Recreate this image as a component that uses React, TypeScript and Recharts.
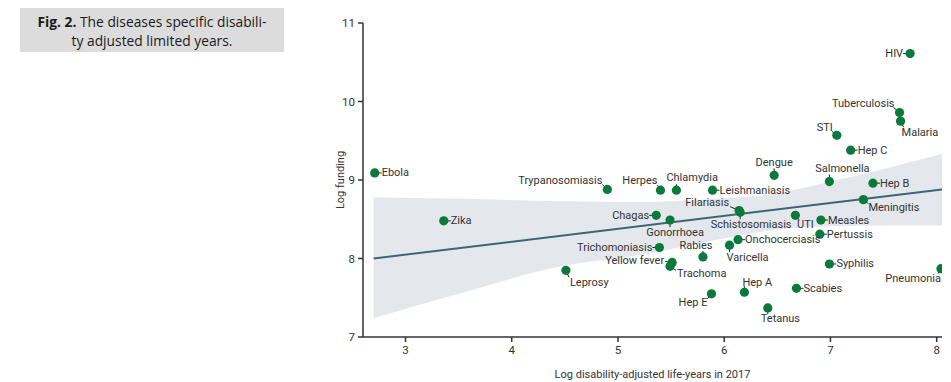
import React from 'react';
import { ComposedChart, Scatter, Line, Area, XAxis, YAxis, Label } from 'recharts';

// diseases, log DALYs (x) and log funding (y)
const diseases = [
  'HIV', 'Tuberculosis', 'Malaria', 'STI', 'Hep C', 'Dengue', 'Salmonella', 'Hep B', 'Meningitis',
  'Ebola', 'Trypanosomiasis', 'Herpes', 'Chlamydia', 'Leishmaniasis', 'Filariasis', 'Schistosomiasis',
  'UTI', 'Chagas', 'Gonorrhoea', 'Zika', 'Measles', 'Pertussis', 'Trichomoniasis', 'Onchocerciasis',
  'Varicella', 'Rabies', 'Yellow fever', 'Trachoma', 'Leprosy', 'Syphilis', 'Pneumonia', 'Hep A',
  'Scabies', 'Hep E', 'Tetanus',
];
const logDalys = [
  7.75, 7.65, 7.66, 7.06, 7.19, 6.47, 6.99, 7.40, 7.31,
  2.71, 4.90, 5.40, 5.55, 5.89, 6.14, 6.15,
  6.67, 5.36, 5.49, 3.36, 6.91, 6.90, 5.39, 6.13,
  6.05, 5.80, 5.51, 5.49, 4.51, 6.99, 8.04, 6.19,
  6.68, 5.88, 6.41,
];
const logFunding = [
  10.61, 9.86, 9.75, 9.57, 9.38, 9.06, 8.98, 8.96, 8.75,
  9.09, 8.88, 8.87, 8.87, 8.87, 8.61, 8.59,
  8.55, 8.55, 8.49, 8.48, 8.49, 8.31, 8.14, 8.24,
  8.17, 8.02, 7.95, 7.90, 7.85, 7.93, 7.87, 7.57,
  7.62, 7.55, 7.37,
];

// regression line and its confidence band
const trendX = [2.7, 8.05];
const trendY = [8.0, 8.88];
const bandX = [2.7, 3.5, 4.5, 5.2, 5.9, 6.5, 7.0, 7.5, 8.05];
const bandLow = [7.24, 7.55, 7.91, 8.04, 8.23, 8.37, 8.41, 8.42, 8.42];
const bandHigh = [8.78, 8.76, 8.73, 8.72, 8.76, 8.83, 8.98, 9.14, 9.33];

const xTicks = [3, 4, 5, 6, 7, 8];
const yTicks = [7, 8, 9, 10, 11];

const points = diseases.map((name, i) => ({ name, x: logDalys[i], y: logFunding[i] }));
const trend = trendX.map((x, i) => ({ x, y: trendY[i] }));
const band = bandX.map((x, i) => ({ x, range: [bandLow[i], bandHigh[i]] }));

// label placement around each dot: text offset, anchor, leader line
type Place = { tx: number; ty: number; a: 'start' | 'middle' | 'end'; l: number[] };
const L: Place = { tx: -7, ty: 0, a: 'end', l: [0, 0, -7, 0] };
const R: Place = { tx: 7, ty: 0, a: 'start', l: [0, 0, 7, 0] };
const place: Record<string, Place> = {
  HIV: L,
  Tuberculosis: { tx: -5, ty: -9, a: 'end', l: [0, 0, -6, -5] },
  Malaria: { tx: 1, ty: 11, a: 'start', l: [0, 0, 3, 6] },
  STI: { tx: -4, ty: -8, a: 'end', l: [0, 0, -5, -4] },
  'Hep C': R,
  Dengue: { tx: 0, ty: -13, a: 'middle', l: [0, 0, 0, -7] },
  Salmonella: { tx: 13, ty: -13, a: 'middle', l: [0, 0, 0, -7] },
  'Hep B': R,
  Meningitis: { tx: 5, ty: 8, a: 'start', l: [0, 0, 5, 4] },
  Ebola: R,
  Trypanosomiasis: { tx: -5, ty: -9, a: 'end', l: [0, 0, -5, -5] },
  Herpes: { tx: -3, ty: -10, a: 'end', l: [0, 0, -3, -5] },
  Chlamydia: { tx: -10, ty: -13, a: 'start', l: [0, 0, 0, -6] },
  Leishmaniasis: R,
  Filariasis: { tx: -10, ty: -8, a: 'end', l: [0, 0, -9, -4] },
  Schistosomiasis: { tx: 11, ty: 12, a: 'middle', l: [0, 0, 0, 7] },
  UTI: { tx: 10, ty: 9, a: 'middle', l: [0, 0, 4, 5] },
  Chagas: L,
  Gonorrhoea: { tx: 5, ty: 12, a: 'middle', l: [0, 0, 0, 7] },
  Zika: R,
  Measles: R,
  Pertussis: R,
  Trichomoniasis: L,
  Onchocerciasis: R,
  Varicella: { tx: -3, ty: 12, a: 'start', l: [0, 0, 0, 7] },
  Rabies: { tx: -7, ty: -11, a: 'middle', l: [0, 0, 0, -6] },
  'Yellow fever': { tx: -8, ty: -2, a: 'end', l: [0, 0, -7, -1] },
  Trachoma: { tx: 7, ty: 7, a: 'start', l: [0, 0, 6, 4] },
  Leprosy: { tx: 4, ty: 12, a: 'start', l: [0, 0, 3, 7] },
  Syphilis: R,
  Pneumonia: { tx: 0, ty: 10, a: 'end', l: [0, 0, -3, 5] },
  'Hep A': { tx: -2, ty: -10, a: 'start', l: [0, 0, 0, -6] },
  Scabies: R,
  'Hep E': { tx: -4, ty: 9, a: 'end', l: [0, 0, -4, 5] },
  Tetanus: { tx: -7, ty: 11, a: 'start', l: [0, 0, 0, 6] },
};

const FONT = "Roboto, 'Liberation Sans', sans-serif";

const Dot = (props: any) => {
  const { cx, cy, payload } = props;
  const p = place[payload.name] || R;
  return (
    <g>
      <line x1={cx + p.l[0]} y1={cy + p.l[1]} x2={cx + p.l[2]} y2={cy + p.l[3]} stroke="#222" strokeWidth={1} />
      <circle cx={cx} cy={cy} r={4.6} fill="#0a7a3c" />
      <text x={cx + p.tx} y={cy + p.ty} textAnchor={p.a} dominantBaseline="central" fontSize={11} fill="#333" fontFamily={FONT}>
        {payload.name}
      </text>
    </g>
  );
};

export default function App() {
  return (
    <div style={{ position: 'absolute', left: 0, top: 0, width: 951, height: 382, background: '#fff' }}>
      <div
        style={{
          position: 'absolute', left: 20, top: 8, width: 264, height: 44, background: '#dcdcdc',
          fontFamily: "'Open Sans', sans-serif", fontSize: 13.8, lineHeight: '19px', color: '#1a1a1a',
          textAlign: 'center', paddingTop: 4, boxSizing: 'border-box', whiteSpace: 'nowrap',
        }}
      >
        <b>Fig. 2.</b> The diseases specific disabili-<br />ty adjusted limited years.
      </div>
      <ComposedChart width={951} height={382} margin={{ top: 23, right: 9, bottom: 0, left: 323 }}>
        <XAxis
          type="number" dataKey="x" domain={[2.6, 8.05]} ticks={xTicks} allowDataOverflow
          height={45} tickSize={5} tickMargin={4} stroke="#333" strokeWidth={1.5}
          tick={{ fontSize: 11.5, fill: '#333', fontFamily: FONT }}
        >
          <Label value="Log disability-adjusted life-years in 2017" position="insideBottom" offset={4}
            style={{ fontSize: 11, fill: '#333', fontFamily: FONT }} />
        </XAxis>
        <YAxis
          type="number" dataKey="y" domain={[7, 11]} ticks={yTicks} allowDataOverflow
          width={40} tickSize={5} tickMargin={3} stroke="#333" strokeWidth={1.5}
          tick={{ fontSize: 11.5, fill: '#333', fontFamily: FONT }}
        >
          <Label value="Log funding" angle={-90} position="insideLeft" offset={17}
            style={{ fontSize: 11, fill: '#333', fontFamily: FONT, textAnchor: 'middle' }} />
        </YAxis>
        <Area data={band} dataKey="range" type="monotone" stroke="none" fill="#e4e8ed" fillOpacity={1} isAnimationActive={false} />
        <Line data={trend} dataKey="y" stroke="#3d6572" strokeWidth={2} dot={false} isAnimationActive={false} />
        <Scatter data={points} dataKey="y" shape={Dot} isAnimationActive={false} />
      </ComposedChart>
    </div>
  );
}
